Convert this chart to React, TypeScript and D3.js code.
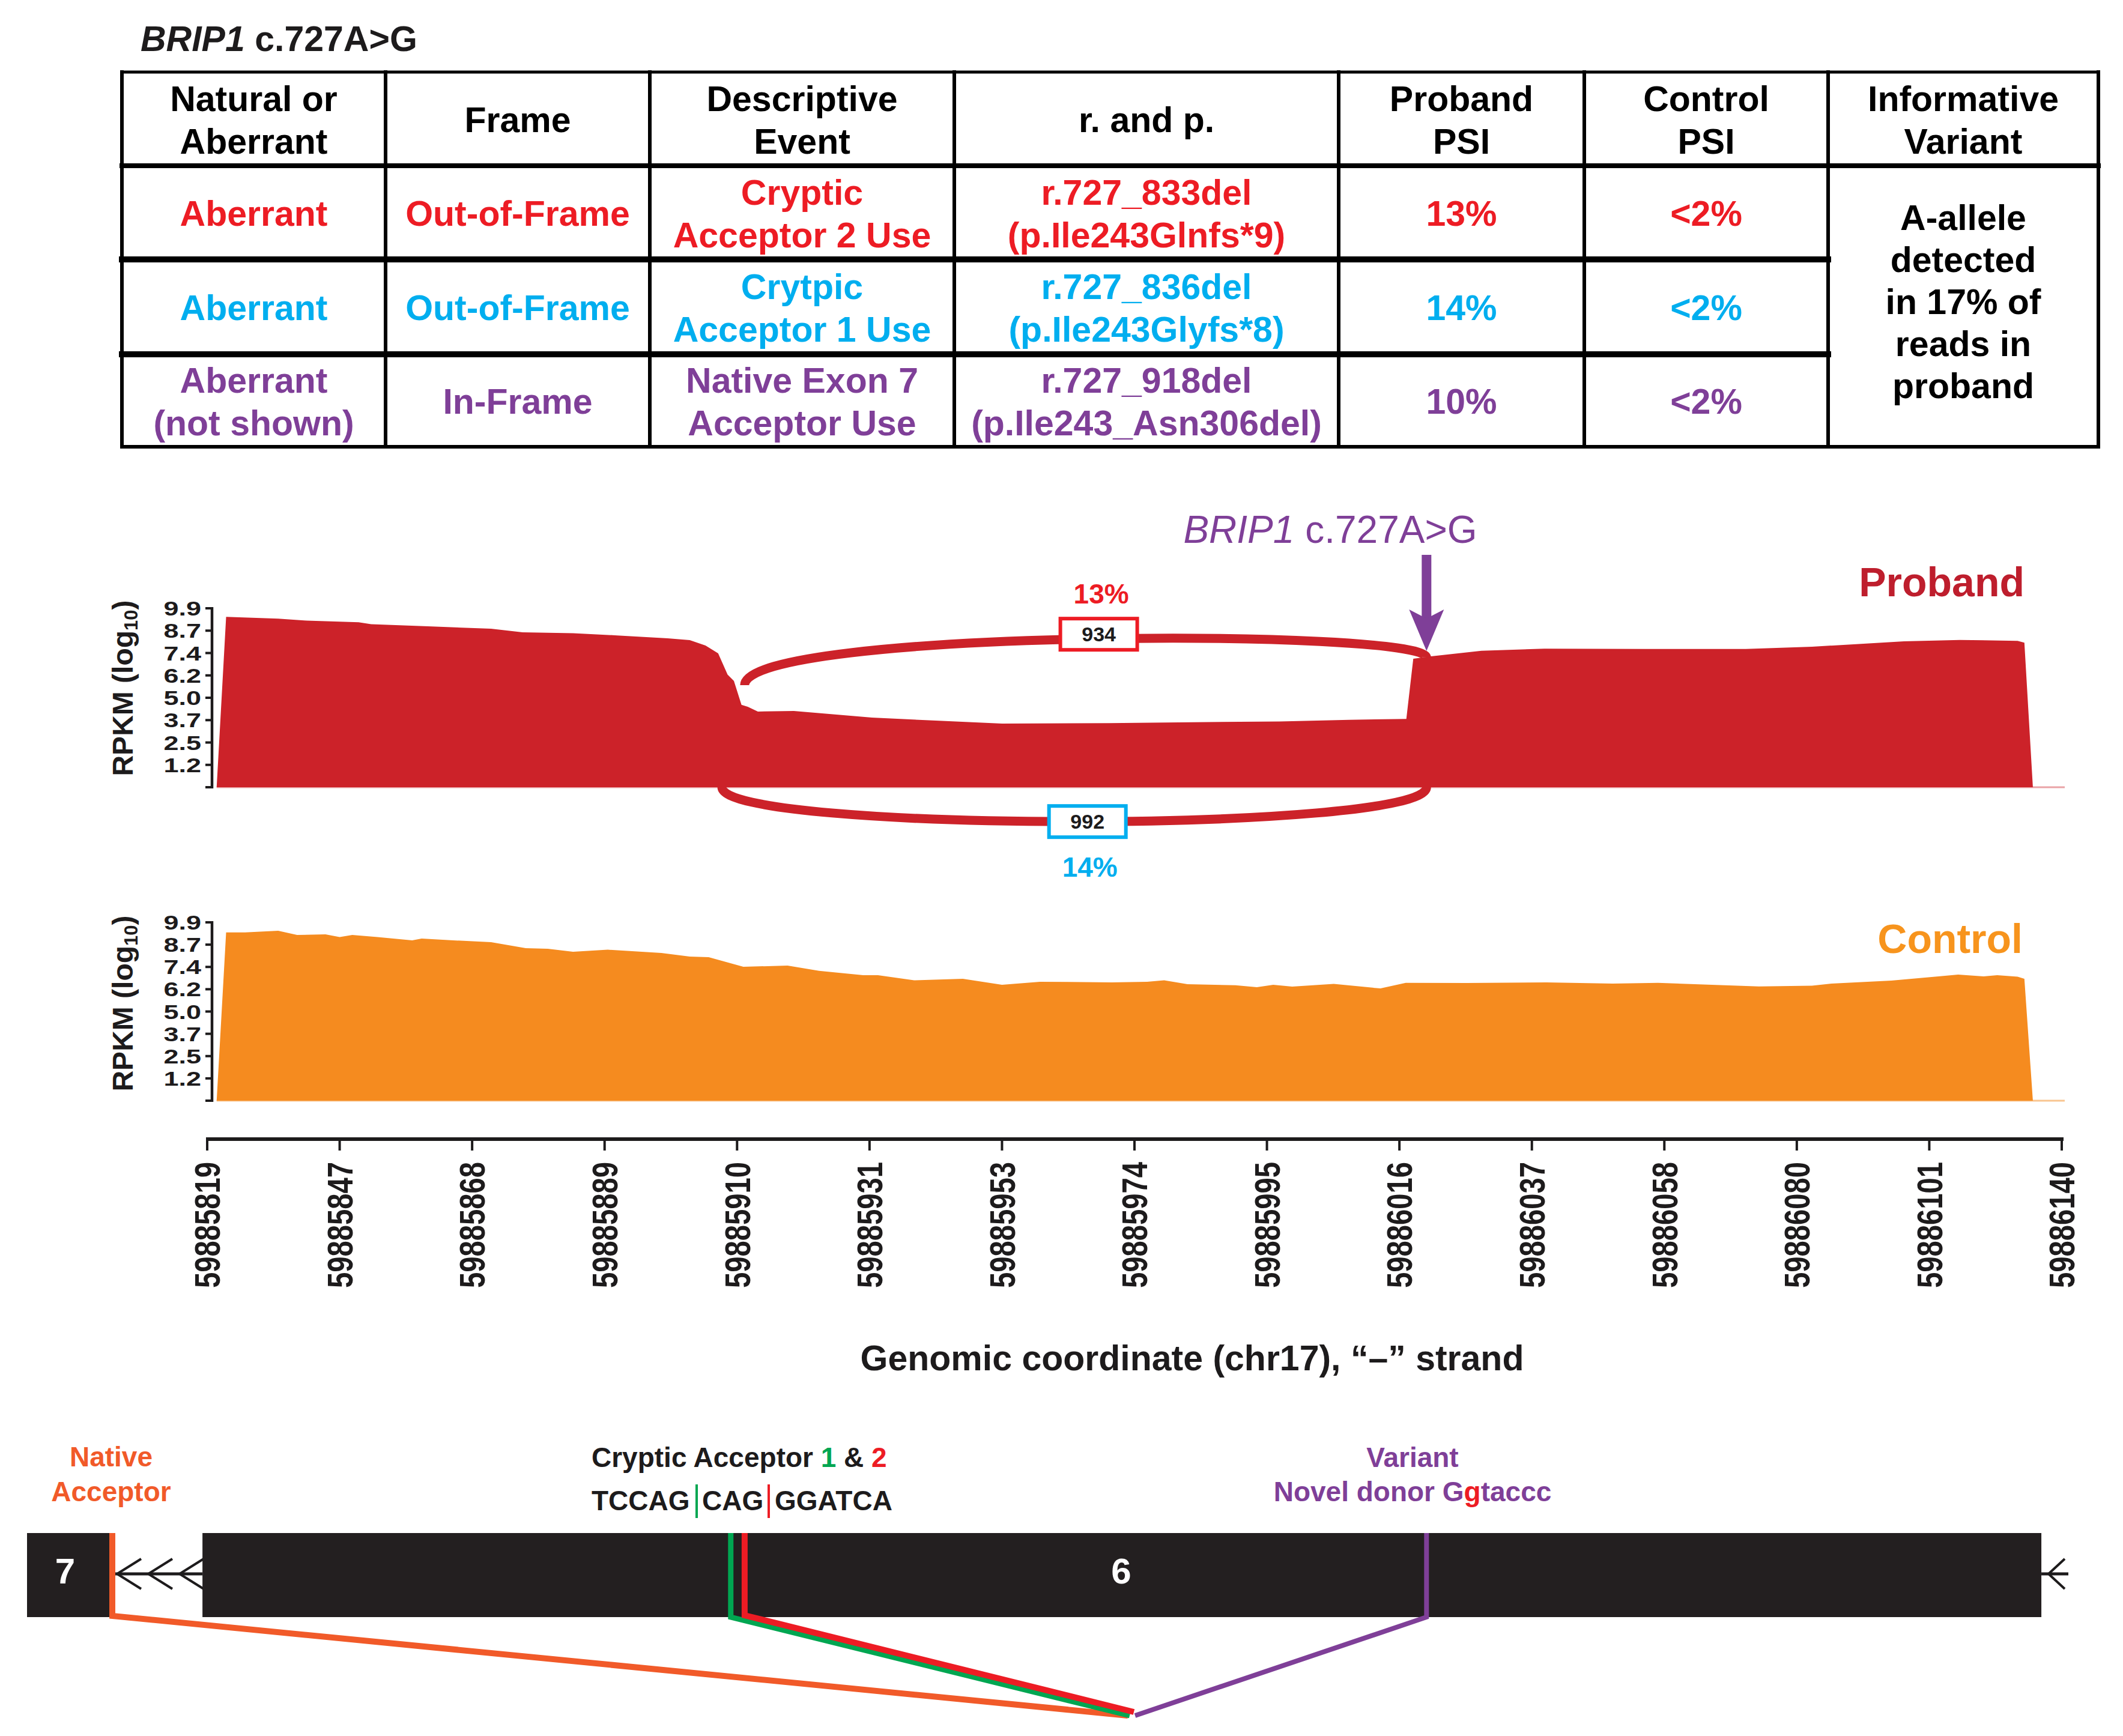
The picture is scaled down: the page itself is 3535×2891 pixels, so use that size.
import React from "react";
import * as d3 from "d3";

const FONT = '"Liberation Sans", Arial, Helvetica, sans-serif';
const INK = "#1d1b1c";

// ---------- table data ----------
const TITLE_GENE = "BRIP1";
const TITLE_VARIANT = " c.727A>G";
const TABLE_HEADERS = [
  ["Natural or", "Aberrant"],
  ["Frame"],
  ["Descriptive", "Event"],
  ["r. and p."],
  ["Proband", "PSI"],
  ["Control", "PSI"],
  ["Informative", "Variant"],
];
const COL_NATURAL = [["Aberrant"], ["Aberrant"], ["Aberrant", "(not shown)"]];
const COL_FRAME = [["Out-of-Frame"], ["Out-of-Frame"], ["In-Frame"]];
const COL_EVENT = [
  ["Cryptic", "Acceptor 2 Use"],
  ["Crytpic", "Acceptor 1 Use"],
  ["Native Exon 7", "Acceptor Use"],
];
const COL_RP = [
  ["r.727_833del", "(p.Ile243Glnfs*9)"],
  ["r.727_836del", "(p.Ile243Glyfs*8)"],
  ["r.727_918del", "(p.Ile243_Asn306del)"],
];
const COL_PROBAND_PSI = ["13%", "14%", "10%"];
const COL_CONTROL_PSI = ["<2%", "<2%", "<2%"];
const ROW_COLORS = ["#ED1C24", "#00AEEF", "#7F3F98"];
const INFORMATIVE = ["A-allele", "detected", "in 17% of", "reads in", "proband"];

// ---------- coverage data ----------
const TICK_VALUES = [
  59885819, 59885847, 59885868, 59885889, 59885910, 59885931, 59885953, 59885974,
  59885995, 59886016, 59886037, 59886058, 59886080, 59886101, 59886140,
];
const Y_TICK_VALUES = [0, 1.2375, 2.475, 3.7125, 4.95, 6.1875, 7.425, 8.6625, 9.9];
const Y_TICK_LABELS = ["", "1.2", "2.5", "3.7", "5.0", "6.2", "7.4", "8.7", "9.9"];

const PROBAND_POS = [
  59885821, 59885823, 59885834, 59885840, 59885850, 59885852, 59885861, 59885871,
  59885876, 59885884, 59885891, 59885899, 59885902.5, 59885905, 59885907, 59885908.5,
  59885909.5, 59885910.7, 59885911.7, 59885913.3, 59885919, 59885931.4, 59885942,
  59885953, 59885970, 59885981, 59885997, 59886008, 59886017.1, 59886018.2, 59886021,
  59886029, 59886039, 59886055, 59886071.5, 59886082.4, 59886089, 59886097, 59886110,
  59886127, 59886129, 59886131.5,
];
const PROBAND_RPKM = [
  0, 9.43, 9.33, 9.22, 9.13, 9.02, 8.9, 8.77, 8.57, 8.52, 8.4, 8.24, 8.14, 7.84, 7.41,
  6.23, 5.88, 4.56, 4.45, 4.19, 4.22, 3.85, 3.69, 3.52, 3.55, 3.59, 3.64, 3.73, 3.78,
  7.11, 7.24, 7.55, 7.67, 7.65, 7.65, 7.77, 7.91, 8.07, 8.15, 8.1, 8.0, 0,
];
const CONTROL_POS = [
  59885821, 59885823, 59885827, 59885834, 59885838, 59885844, 59885847, 59885849,
  59885853, 59885858.5, 59885860, 59885865, 59885871, 59885876.5, 59885880, 59885884,
  59885889.5, 59885898, 59885902.5, 59885905.5, 59885911, 59885918, 59885923, 59885930,
  59885932.4, 59885938.4, 59885946.5, 59885953, 59885959, 59885970.4, 59885976,
  59885978.7, 59885982.4, 59885990, 59885993.4, 59885996, 59885999, 59886005.6,
  59886013, 59886017, 59886026.7, 59886039.3, 59886049.8, 59886057, 59886068,
  59886073.7, 59886082.4, 59886085.5, 59886095, 59886103.7, 59886109.5, 59886117,
  59886121, 59886127, 59886129, 59886131.5,
];
const CONTROL_RPKM = [
  0, 9.34, 9.34, 9.43, 9.2, 9.23, 9.08, 9.2, 9.08, 8.9, 9.0, 8.9, 8.8, 8.47, 8.43, 8.27,
  8.38, 8.2, 8.0, 7.97, 7.43, 7.5, 7.21, 6.97, 6.97, 6.68, 6.77, 6.43, 6.6, 6.57, 6.6,
  6.68, 6.47, 6.41, 6.3, 6.43, 6.33, 6.48, 6.23, 6.54, 6.53, 6.57, 6.5, 6.54, 6.41, 6.34,
  6.38, 6.5, 6.67, 6.9, 7.0, 6.9, 6.97, 6.88, 6.77, 0,
];

// junctions (sashimi arcs)
const JUNCTION_READS = [934, 992];
const JUNCTION_PSI = ["13%", "14%"];
const JUNCTION_START = [59885911.2, 59885907.6];
const JUNCTION_END = [59886020.3, 59886020.3];
const JUNCTION_START_LEVEL = [5.65, 0];
const JUNCTION_END_LEVEL = [7.18, 0];
const JUNCTION_APEX = [8.2, -1.9];
const JUNCTION_BOX_COLORS = ["#ED1C24", "#00AEEF"];

// gene model
const EXON6_RANGE = [59885818, 59886134];
const CRYPTIC_ACCEPTORS = [59885909, 59885911.2];
const VARIANT_POS = 59886020.3;

function Lines(props: {
  lines: string[];
  x: number;
  cy: number;
  fs: number;
  lh: number;
  fill: string;
  anchor?: string;
}) {
  const { lines, x, cy, fs, lh, fill } = props;
  const n = lines.length;
  return (
    <text
      fontFamily={FONT}
      fontWeight="bold"
      fontSize={fs}
      fill={fill}
      textAnchor={props.anchor || "middle"}
    >
      {lines.map((l, i) => (
        <tspan key={i} x={x} y={cy + (i - (n - 1) / 2) * lh + 0.38 * fs}>
          {l}
        </tspan>
      ))}
    </text>
  );
}

export default function App() {
  const W = 3535;
  const H = 2891;

  // ---------- table layout ----------
  const colX = [203, 642, 1082, 1589, 2229, 2638, 3044, 3494];
  const rowY = [120, 276, 432, 590, 744];
  const colC = colX.slice(0, -1).map((x, i) => (x + colX[i + 1]) / 2);
  const rowC = rowY.slice(0, -1).map((y, i) => (y + rowY[i + 1]) / 2);
  const TFS = 59;
  const TLH = 71;

  // ---------- scales ----------
  const xPoint = d3
    .scalePoint<string>()
    .domain(TICK_VALUES.map(String))
    .range([345, 3433]);
  const xScale = d3
    .scaleLinear()
    .domain(TICK_VALUES)
    .range(TICK_VALUES.map((v) => xPoint(String(v)) as number));
  const yProband = d3.scaleLinear().domain([0, 9.9]).range([1311, 1013]);
  const yControl = d3.scaleLinear().domain([0, 9.9]).range([1833, 1536]);

  const probandData = PROBAND_POS.map((p, i) => [p, PROBAND_RPKM[i]] as [number, number]);
  const controlData = CONTROL_POS.map((p, i) => [p, CONTROL_RPKM[i]] as [number, number]);

  const areaP = d3
    .area<[number, number]>()
    .x((d) => xScale(d[0]))
    .y0(yProband(0))
    .y1((d) => yProband(d[1]))
    .curve(d3.curveLinear);
  const areaC = d3
    .area<[number, number]>()
    .x((d) => xScale(d[0]))
    .y0(yControl(0))
    .y1((d) => yControl(d[1]))
    .curve(d3.curveLinear);

  const yAxis = (y: d3.ScaleLinear<number, number>, key: string, labelCy: number) => (
    <g key={key}>
      <line x1={353} x2={353} y1={y(0) + 2} y2={y(9.9) - 2} stroke={INK} strokeWidth={4.5} />
      {Y_TICK_VALUES.map((v, i) => (
        <g key={i}>
          <line x1={342} x2={355} y1={y(v)} y2={y(v)} stroke={INK} strokeWidth={4} />
          {Y_TICK_LABELS[i] && (
            <text
              transform={`translate(335,${y(v)}) scale(1,0.74)`}
              textAnchor="end"
              dy="0.36em"
              fontFamily={FONT}
              fontWeight="bold"
              fontSize={45}
              fill={INK}
            >
              {Y_TICK_LABELS[i]}
            </text>
          )}
        </g>
      ))}
      <text
        transform={`translate(221,${labelCy}) rotate(-90)`}
        textAnchor="middle"
        fontFamily={FONT}
        fontWeight="bold"
        fontSize={48}
        fill={INK}
      >
        RPKM (log
        <tspan fontSize={31} dy={8}>
          10
        </tspan>
        <tspan dy={-8}>)</tspan>
      </text>
    </g>
  );

  // junction arcs
  const arcs = JUNCTION_READS.map((reads, i) => {
    const x0 = xScale(JUNCTION_START[i]);
    const x3 = xScale(JUNCTION_END[i]);
    const y0 = yProband(JUNCTION_START_LEVEL[i]);
    const y3 = yProband(JUNCTION_END_LEVEL[i]);
    const yMid = yProband(JUNCTION_APEX[i]);
    const yc = (yMid - 0.125 * (y0 + y3)) / 0.75;
    const p = d3.path();
    p.moveTo(x0, y0);
    p.bezierCurveTo(x0, yc, x3, yc, x3, y3);
    const bx = (x0 + x3) / 2 + 22;
    const above = JUNCTION_APEX[i] > 0;
    const by = above ? yMid - 8 : yMid;
    return { d: p.toString(), bx, by, reads, above, i };
  });

  const variantX = xScale(VARIANT_POS);

  // gene model layout
  const exTop = 2553;
  const exBot = 2693;
  const exMid = (exTop + exBot) / 2 - 2;
  const convX = 1886;
  const convY = 2855;
  const exon6X0 = xScale(EXON6_RANGE[0]);
  const exon6X1 = xScale(EXON6_RANGE[1]);
  const exon7X0 = 45;
  const exon7X1 = 184;
  const nativeX = 187;
  const chevron = (tip: number, w: number) =>
    `M${tip + w},${exMid - 25} L${tip},${exMid} L${tip + w},${exMid + 25}`;

  const greenX = xScale(CRYPTIC_ACCEPTORS[0]);
  const redX = xScale(CRYPTIC_ACCEPTORS[1]);

  return (
    <svg
      width={W}
      height={H}
      style={{ position: "absolute", left: 0, top: 0, background: "#fff" }}
      fontFamily={FONT}
    >
      <rect x={0} y={0} width={W} height={H} fill="#fff" />

      {/* title */}
      <text x={234} y={85} fontSize={59} fontWeight="bold" fill={INK}>
        <tspan fontStyle="italic">{TITLE_GENE}</tspan>
        {TITLE_VARIANT}
      </text>

      {/* table lines */}
      <g stroke="#000" strokeLinecap="square">
        {colX.map((x, i) => (
          <line key={i} x1={x} x2={x} y1={rowY[0]} y2={rowY[4]} strokeWidth={6} />
        ))}
        <line x1={colX[0]} x2={colX[7]} y1={rowY[0]} y2={rowY[0]} strokeWidth={5} />
        <line x1={colX[0]} x2={colX[7]} y1={rowY[1]} y2={rowY[1]} strokeWidth={8} />
        <line x1={colX[0]} x2={colX[6]} y1={rowY[2]} y2={rowY[2]} strokeWidth={10} />
        <line x1={colX[0]} x2={colX[6]} y1={rowY[3]} y2={rowY[3]} strokeWidth={10} />
        <line x1={colX[0]} x2={colX[7]} y1={rowY[4]} y2={rowY[4]} strokeWidth={6} />
      </g>

      {/* table header */}
      {TABLE_HEADERS.map((h, i) => (
        <Lines key={"h" + i} lines={h} x={colC[i]} cy={rowC[0]} fs={TFS} lh={TLH} fill="#000" />
      ))}
      {/* table rows */}
      {ROW_COLORS.map((c, r) => (
        <g key={"r" + r}>
          <Lines lines={COL_NATURAL[r]} x={colC[0]} cy={rowC[r + 1]} fs={TFS} lh={TLH} fill={c} />
          <Lines lines={COL_FRAME[r]} x={colC[1]} cy={rowC[r + 1]} fs={TFS} lh={TLH} fill={c} />
          <Lines lines={COL_EVENT[r]} x={colC[2]} cy={rowC[r + 1]} fs={TFS} lh={TLH} fill={c} />
          <Lines lines={COL_RP[r]} x={colC[3]} cy={rowC[r + 1]} fs={TFS} lh={TLH} fill={c} />
          <Lines lines={[COL_PROBAND_PSI[r]]} x={colC[4]} cy={rowC[r + 1]} fs={TFS} lh={TLH} fill={c} />
          <Lines lines={[COL_CONTROL_PSI[r]]} x={colC[5]} cy={rowC[r + 1]} fs={TFS} lh={TLH} fill={c} />
        </g>
      ))}
      <Lines lines={INFORMATIVE} x={colC[6]} cy={501} fs={TFS} lh={70} fill="#000" />

      {/* ---------- proband panel ---------- */}
      <line
        x1={xScale(PROBAND_POS[0])}
        x2={3438}
        y1={yProband(0)}
        y2={yProband(0)}
        stroke="#e9a3a6"
        strokeWidth={3}
      />
      <path d={areaP(probandData) || ""} fill="#CC2229" />
      {yAxis(yProband, "yp", 1146)}

      {arcs.map((a) => (
        <path key={"arc" + a.i} d={a.d} fill="none" stroke="#CC2229" strokeWidth={15} />
      ))}
      {arcs.map((a) => (
        <g key={"box" + a.i}>
          <rect
            x={a.bx - 64}
            y={a.by - 26}
            width={128}
            height={52}
            fill="#fff"
            stroke={JUNCTION_BOX_COLORS[a.i]}
            strokeWidth={6}
          />
          <text
            x={a.bx}
            y={a.by}
            dy="0.36em"
            textAnchor="middle"
            fontSize={34}
            fontWeight="bold"
            fill={INK}
          >
            {a.reads}
          </text>
          <text
            x={a.bx + 4}
            y={a.above ? a.by - 26 - 25 : a.by + 26 + 66}
            textAnchor="middle"
            fontSize={46}
            fontWeight="bold"
            fill={JUNCTION_BOX_COLORS[a.i]}
          >
            {JUNCTION_PSI[a.i]}
          </text>
        </g>
      ))}

      {/* variant arrow */}
      <line x1={variantX} x2={variantX} y1={924} y2={1030} stroke="#7F3F98" strokeWidth={16} />
      <path
        d={`M${variantX},1084 L${variantX - 29},1015 L${variantX},1030 L${variantX + 29},1015 Z`}
        fill="#7F3F98"
      />
      <text x={2215} y={904} textAnchor="middle" fontSize={64} fill="#7F3F98">
        <tspan fontStyle="italic">BRIP1</tspan> c.727A&gt;G
      </text>
      <text x={3371} y={993} textAnchor="end" fontSize={68} fontWeight="bold" fill="#BE1E2D">
        Proband
      </text>

      {/* ---------- control panel ---------- */}
      <line
        x1={xScale(CONTROL_POS[0])}
        x2={3438}
        y1={yControl(0)}
        y2={yControl(0)}
        stroke="#f9c58f"
        strokeWidth={3}
      />
      <path d={areaC(controlData) || ""} fill="#F58B1F" />
      {yAxis(yControl, "yc", 1671)}
      <text x={3368} y={1587} textAnchor="end" fontSize={68} fontWeight="bold" fill="#F7941D">
        Control
      </text>

      {/* ---------- x axis ---------- */}
      <line x1={343} x2={3436} y1={1897} y2={1897} stroke={INK} strokeWidth={6} />
      {TICK_VALUES.map((v) => {
        const x = xPoint(String(v)) as number;
        return (
          <g key={v}>
            <line x1={x} x2={x} y1={1897} y2={1916} stroke={INK} strokeWidth={4} />
            <text
              transform={`translate(${x},1935) rotate(-90) scale(0.8,1)`}
              textAnchor="end"
              dy="0.36em"
              fontSize={59}
              fontWeight="bold"
              fill={INK}
            >
              {v}
            </text>
          </g>
        );
      })}
      <text x={1985} y={2282} textAnchor="middle" fontSize={59} fontWeight="bold" fill={INK}>
        Genomic coordinate (chr17), {"\u201C\u2013\u201D"} strand
      </text>

      {/* ---------- gene model ---------- */}
      <text textAnchor="middle" fontSize={46} fontWeight="bold" fill="#F15A29">
        <tspan x={185} y={2442}>
          Native
        </tspan>
        <tspan x={185} y={2500}>
          Acceptor
        </tspan>
      </text>
      <text x={985} y={2443} fontSize={46} fontWeight="bold" fill={INK}>
        Cryptic Acceptor <tspan fill="#00A651">1</tspan> &amp; <tspan fill="#ED1C24">2</tspan>
      </text>
      <g fontSize={46} fontWeight="bold" fill={INK}>
        <text x={985} y={2515}>
          TCCAG
        </text>
        <text x={1169} y={2515}>
          CAG
        </text>
        <text x={1290} y={2515}>
          GGATCA
        </text>
      </g>
      <line x1={1160} x2={1160} y1={2472} y2={2528} stroke="#00A651" strokeWidth={4} />
      <line x1={1280} x2={1280} y1={2472} y2={2528} stroke="#ED1C24" strokeWidth={4} />
      <text textAnchor="middle" fontSize={46} fontWeight="bold" fill="#7F3F98">
        <tspan x={2352} y={2443}>
          Variant
        </tspan>
        <tspan x={2352} y={2500}>
          Novel donor G<tspan fill="#ED1C24">g</tspan>taccc
        </tspan>
      </text>

      {/* introns */}
      <line x1={nativeX} x2={exon6X0} y1={exMid} y2={exMid} stroke={INK} strokeWidth={5} />
      {[195, 247, 299].map((t) => (
        <path key={t} d={chevron(t, 40)} fill="none" stroke={INK} strokeWidth={4} />
      ))}
      <line x1={exon6X1} x2={3444} y1={exMid} y2={exMid} stroke={INK} strokeWidth={5} />
      <path d={chevron(3411, 27)} fill="none" stroke={INK} strokeWidth={4} />

      {/* exons */}
      <rect x={exon7X0} y={exTop} width={exon7X1 - exon7X0} height={exBot - exTop} fill="#231F20" />
      <rect x={exon6X0} y={exTop} width={exon6X1 - exon6X0} height={exBot - exTop} fill="#231F20" />
      <text x={(exon7X0 + exon7X1) / 2 - 6} y={2637} textAnchor="middle" fontSize={60} fontWeight="bold" fill="#fff">
        7
      </text>
      <text x={1867} y={2637} textAnchor="middle" fontSize={60} fontWeight="bold" fill="#fff">
        6
      </text>

      {/* splice connections */}
      <path
        d={`M${nativeX},${exTop} L${nativeX},${exBot - 2} L${convX - 8},${convY + 2}`}
        fill="none"
        stroke="#F15A29"
        strokeWidth={10}
        strokeLinejoin="miter"
      />
      <path
        d={`M${greenX},${exTop} L${greenX},${exBot} L${convX - 5},${convY + 2}`}
        fill="none"
        stroke="#00A651"
        strokeWidth={9}
      />
      <path
        d={`M${redX},${exTop} L${redX},${exBot - 3} L${convX + 2},${convY - 4}`}
        fill="none"
        stroke="#ED1C24"
        strokeWidth={10}
      />
      <path
        d={`M${variantX},${exTop} L${variantX},${exBot} L${convX + 4},${convY + 2}`}
        fill="none"
        stroke="#7F3F98"
        strokeWidth={8}
      />
    </svg>
  );
}
